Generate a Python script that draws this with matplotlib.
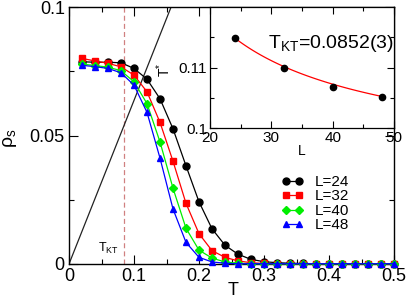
import numpy as np
import matplotlib
matplotlib.use("Agg")
import matplotlib.pyplot as plt
from matplotlib.ticker import MultipleLocator, FixedLocator

plt.rcParams['font.family'] = ['Liberation Sans', 'DejaVu Sans']
plt.rcParams['mathtext.fontset'] = 'custom'
plt.rcParams['mathtext.rm'] = 'Liberation Sans'
plt.rcParams['mathtext.it'] = 'Liberation Sans'

T = [0.02, 0.04, 0.06, 0.08, 0.10, 0.12, 0.14, 0.16, 0.18, 0.20, 0.22, 0.24, 0.26,
     0.28, 0.30, 0.32, 0.34, 0.36, 0.38, 0.40, 0.42, 0.44, 0.46, 0.48, 0.50]
rho_24 = [0.0787, 0.0785, 0.0785, 0.0783, 0.0761, 0.0719, 0.0643, 0.0526, 0.0382, 0.0242,
          0.0137, 0.0073, 0.0038, 0.0018, 0.0009, 0.0005, 0.0003, 0.0002, 0.0001, 0.0001,
          0.0001, 0.0001, 0.0001, 0.0001, 0.0001]
rho_32 = [0.0800, 0.0790, 0.0781, 0.0767, 0.0735, 0.0670, 0.0551, 0.0400, 0.0236, 0.0118,
          0.0052, 0.0026, 0.0012, 0.0005, 0.0002, 0.0001, 0.0001, 0.0001, 0.0001, 0.0001,
          0.0001, 0.0001, 0.0001, 0.0001, 0.0001]
rho_40 = [0.0778, 0.0772, 0.0766, 0.0752, 0.0709, 0.0624, 0.0475, 0.0295, 0.0139, 0.0054,
          0.0023, 0.0008, 0.0003, 0.0001, 0.0001, 0.0001, 0.0001, 0.0001, 0.0001, 0.0001,
          0.0001, 0.0001, 0.0001, 0.0001, 0.0001]
rho_48 = [0.0773, 0.0768, 0.0761, 0.0744, 0.0696, 0.0590, 0.0412, 0.0214, 0.0084, 0.0026,
          0.0008, 0.0003, 0.0001, 0.0001, 0.0001, 0.0001, 0.0001, 0.0001, 0.0001, 0.0001,
          0.0001, 0.0001, 0.0001, 0.0001, 0.0001]
labels = ["L=24", "L=32", "L=40", "L=48"]
colors = ["black", "#ff0000", "#00ee00", "#0000ff"]
markers = ["o", "s", "D", "^"]
msizes = [5, 4.5, 4, 5]

T_KT = 0.0852
L_inset = [24, 32, 40, 48]
Tstar = [0.1149, 0.1100, 0.1067, 0.1052]
fit_b = 0.30

fig = plt.figure(figsize=(4.09, 3.03), dpi=100)
W, H = 409, 303
ax = fig.add_axes([69 / W, (H - 264) / H, (394 - 69) / W, (264 - 7) / H])

series = [rho_24, rho_32, rho_40, rho_48]
for ys, lab, c, m, ms in zip(series, labels, colors, markers, msizes):
    ax.plot(T, ys, color=c, marker=m, markersize=ms, lw=0.9, label=lab,
            clip_on=False, zorder=3)

tl = np.linspace(0, 0.5, 2)
ax.plot(tl, 2 * tl / np.pi, color="#222222", lw=0.9, zorder=2)
ax.axvline(T_KT, color="#d08080", lw=0.9, ls=(0, (4, 2.5)), zorder=1)
ax.text(0.045, 0.0048, r"T$_{\mathrm{KT}}$", fontsize=9, ha="left", va="baseline")

ax.set_xlim(0, 0.5)
ax.set_ylim(0, 0.1)
ax.xaxis.set_major_locator(FixedLocator([0, 0.1, 0.2, 0.3, 0.4, 0.5]))
ax.set_xticklabels(["0", "0.1", "0.2", "0.3", "0.4", "0.5"])
ax.xaxis.set_minor_locator(MultipleLocator(0.05))
ax.yaxis.set_major_locator(FixedLocator([0, 0.05, 0.1]))
ax.set_yticklabels(["0", "0.05", "0.1"])
ax.yaxis.set_minor_locator(MultipleLocator(0.025))
ax.tick_params(which="both", direction="in", top=True, right=True, labelsize=13, pad=3)
ax.tick_params(which="major", length=6.5, width=0.8)
ax.tick_params(which="minor", length=3.5, width=0.8)
for s in ax.spines.values():
    s.set_linewidth(1.0)
ax.set_xlabel("T", fontsize=13)
ax.set_ylabel(r"$\rho_{\mathrm{s}}$", fontsize=14)
ax.xaxis.set_label_coords(0.505, -0.07)
ax.yaxis.set_label_coords(-0.155, 0.49)

leg = ax.legend(loc="upper left", bbox_to_anchor=(281 / W, (H - 175) / H),
                bbox_transform=fig.transFigure, frameon=False, fontsize=11,
                numpoints=2, handlelength=1.5, handletextpad=0.7, labelspacing=0.03,
                borderpad=0, borderaxespad=0)

# inset
axi = fig.add_axes([210 / W, (H - 128) / H, (394 - 210) / W, (128 - 7) / H])
Lf = np.linspace(24, 48, 100)
axi.plot(Lf, T_KT + fit_b / np.log(Lf) ** 2, color="#ff0000", lw=0.9)
axi.plot(L_inset, Tstar, "o", color="black", markersize=4.5, clip_on=False)
axi.set_xlim(20, 50)
axi.set_ylim(0.1, 0.12)
axi.xaxis.set_major_locator(FixedLocator([20, 30, 40, 50]))
axi.set_xticklabels(["20", "30", "40", "50"])
axi.xaxis.set_minor_locator(MultipleLocator(5))
axi.yaxis.set_major_locator(FixedLocator([0.1, 0.11]))
axi.set_yticklabels(["0.1", "0.11"])
axi.yaxis.set_minor_locator(FixedLocator([0.105, 0.115]))
axi.tick_params(which="both", direction="in", top=True, right=True, labelsize=11, pad=2)
axi.tick_params(which="major", length=5, width=0.8)
axi.tick_params(which="minor", length=3, width=0.8)
for s in axi.spines.values():
    s.set_linewidth(0.9)
axi.set_xlabel("L", fontsize=10)
axi.set_ylabel(r"T$^{*}$", fontsize=10)
axi.xaxis.set_label_coords(0.5, -0.13)
axi.yaxis.set_label_coords(-0.2, 0.48)
axi.text(29.4, 0.1132, r"T$_{\mathrm{KT}}$=0.0852(3)", fontsize=14, ha="left", va="baseline")

fig.savefig("out.png", dpi=100)
